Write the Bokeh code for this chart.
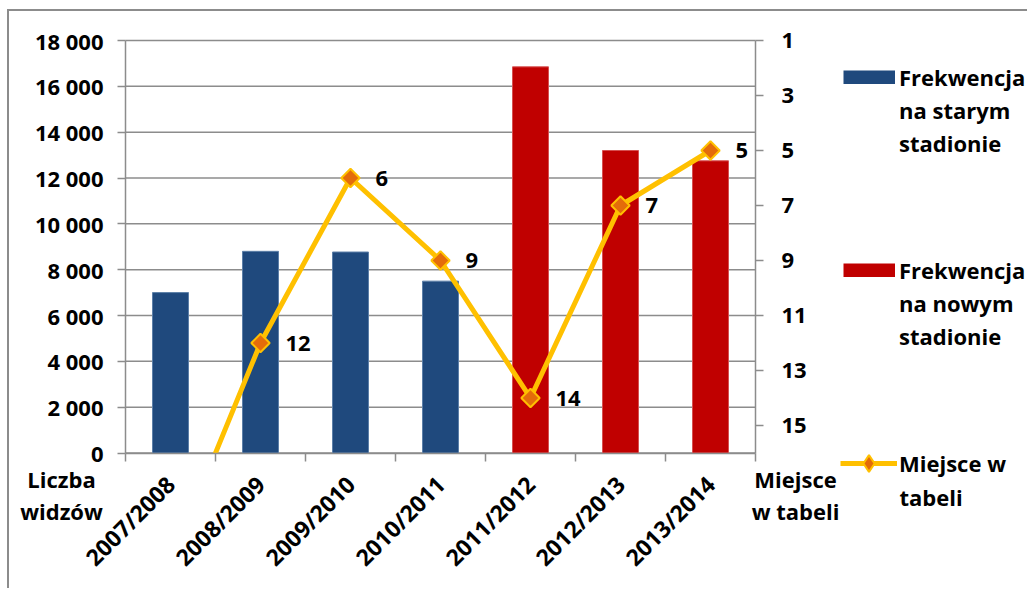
import math

from bokeh.core.properties import value
from bokeh.embed import file_html
from bokeh.models import (ColumnDataSource, FixedTicker, Label, Legend,
                          LegendItem, LinearAxis, Range1d)
from bokeh.plotting import figure
from bokeh.resources import INLINE

# ---- data -----------------------------------------------------------------
seasons = ["2007/2008", "2008/2009", "2009/2010", "2010/2011",
           "2011/2012", "2012/2013", "2013/2014"]
attendance = [7000, 8800, 8770, 7500, 16850, 13200, 12750]
stadium = ["old", "old", "old", "old", "new", "new", "new"]
league_place = [20, 12, 6, 9, 14, 7, 5]

attendance_ticks = list(range(0, 18001, 2000))
place_ticks = [1, 3, 5, 7, 9, 11, 13, 15]
place_limits = (1, 16)

# ---- styling ----------------------------------------------------------------
FONT = "Open Sans"
FS = "22px"
GREY = "#8c8c8c"
BLUE = "#1F497D"
RED = "#C00000"
GOLD = "#FFC000"
ORANGE = "#E46C0A"
NAN = float("nan")

# ---- geometry (page pixels) ------------------------------------------------
FIG_X, FIG_Y, FIG_W, FIG_H = 9, 11, 1020, 579      # canvas inside the border
AREA_L, AREA_R, AREA_T, AREA_B = 125, 755, 40, 452.5  # plotting area

n = len(seasons)
x_per_px = n / (AREA_R - AREA_L)
y_per_px = attendance_ticks[-1] / (AREA_B - AREA_T)
p_per_px = (place_limits[1] - place_limits[0]) / (AREA_B - AREA_T)

x_range = Range1d(-(AREA_L - FIG_X) * x_per_px,
                  n + (FIG_X + FIG_W - AREA_R) * x_per_px)
y_range = Range1d(-(FIG_Y + FIG_H - AREA_B) * y_per_px,
                  attendance_ticks[-1] + (AREA_T - FIG_Y) * y_per_px)
place_range = Range1d(place_limits[1] + (FIG_Y + FIG_H - AREA_B) * p_per_px,
                      place_limits[0] - (AREA_T - FIG_Y) * p_per_px)


def scr(px, py):
    """page pixel -> screen units of the frame (origin bottom-left)"""
    return px - FIG_X, FIG_Y + FIG_H - py


xs = [i + 0.5 for i in range(n)]

old_src = ColumnDataSource(dict(
    x=[x for x, s in zip(xs, stadium) if s == "old"],
    top=[a for a, s in zip(attendance, stadium) if s == "old"]))
new_src = ColumnDataSource(dict(
    x=[x for x, s in zip(xs, stadium) if s == "new"],
    top=[a for a, s in zip(attendance, stadium) if s == "new"]))
place_src = ColumnDataSource(dict(
    x=xs, y=league_place, label=[str(v) for v in league_place]))

p = figure(width=FIG_W, height=FIG_H, output_backend="svg",
           toolbar_location=None, x_range=x_range, y_range=y_range,
           x_axis_location=None, y_axis_location=None,
           min_border=0, min_border_left=0, min_border_right=0,
           min_border_top=0, min_border_bottom=0,
           styles={"margin-left": "7px", "margin-top": "9px",
                   "border-left": f"2px solid {GREY}",
                   "border-top": f"2px solid {GREY}"})
p.outline_line_color = None
p.background_fill_color = "white"
p.border_fill_color = "white"
p.grid.visible = False
p.extra_y_ranges = {"place": place_range}


def style_axis(ax, size=FS):
    ax.axis_line_color = GREY
    ax.axis_line_width = 1.5
    ax.major_tick_line_color = GREY
    ax.major_tick_line_width = 1.5
    ax.minor_tick_line_color = None
    ax.major_label_text_font = FONT
    ax.major_label_text_font_size = size
    ax.major_label_text_font_style = "bold"
    ax.major_label_text_color = "black"


# horizontal gridlines across the plotting area
p.segment(x0=[0] * len(attendance_ticks), x1=[n] * len(attendance_ticks),
          y0=attendance_ticks, y1=attendance_ticks,
          line_color=GREY, line_width=1.5)

# bars
old_bars = p.vbar(x="x", top="top", width=0.4, source=old_src,
                  fill_color=BLUE, line_color="#5c7fa8", line_width=1)
new_bars = p.vbar(x="x", top="top", width=0.4, source=new_src,
                  fill_color=RED, line_color="#d65050", line_width=1)

# league place line
place_line = p.line(x="x", y="y", source=place_src, y_range_name="place",
                    line_color=GOLD, line_width=5)
place_pts = p.scatter(x="x", y="y", source=place_src, y_range_name="place",
                      marker="square", angle=math.pi / 4, size=13,
                      fill_color=ORANGE, line_color=GOLD, line_width=2)
p.text(x="x", y="y", text="label", source=place_src, y_range_name="place",
       x_offset=25, text_align="left", text_baseline="middle",
       text_font=value(FONT), text_font_size=FS, text_font_style="bold",
       text_color="black")

# everything below the category axis stays blank (places beyond the scale)
p.quad(left=[0], right=[n], top=[0], bottom=[y_range.start],
       fill_color="white", line_color=None)

# left axis: attendance
ya = LinearAxis(ticker=FixedTicker(ticks=attendance_ticks),
                fixed_location=0, bounds=(0, attendance_ticks[-1]))
style_axis(ya)
ya.major_label_overrides = {t: f"{t:,}".replace(",", " ") for t in attendance_ticks}
ya.major_tick_out = 8
ya.major_tick_in = 0
ya.major_label_standoff = 14
p.add_layout(ya, "left")

# right axis: league place (reversed)
ra = LinearAxis(y_range_name="place", ticker=FixedTicker(ticks=place_ticks),
                fixed_location=n, bounds=place_limits)
style_axis(ra)
ra.major_tick_out = 8
ra.major_tick_in = 0
ra.major_label_standoff = 18
p.add_layout(ra, "right")

# bottom axis: seasons, ticks between categories
xa = LinearAxis(ticker=FixedTicker(ticks=xs, minor_ticks=list(range(n + 1))),
                fixed_location=0, bounds=(0, n))
style_axis(xa, "23px")
xa.major_label_overrides = {x: s for x, s in zip(xs, seasons)}
xa.major_tick_out = 0
xa.major_tick_in = 0
xa.minor_tick_line_color = GREY
xa.minor_tick_line_width = 1.5
xa.minor_tick_out = 8
xa.minor_tick_in = 0
xa.major_label_orientation = math.pi / 4
xa.major_label_standoff = 19
p.add_layout(xa, "below")

# legend-only renderers (nothing is drawn in the plot itself)
old_swatch = p.line(x=[NAN], y=[NAN], line_color=BLUE, line_width=14,
                    line_cap="butt")
new_swatch = p.line(x=[NAN], y=[NAN], line_color=RED, line_width=14,
                    line_cap="butt")
place_swatch = p.scatter(x=[NAN], y=[NAN], marker="diamond",
                         fill_color=ORANGE, line_color=GOLD, line_width=2)
blank = p.scatter(x=[NAN], y=[NAN], fill_alpha=0, line_alpha=0)


def legend_block(lines, renderers, page_xy, glyph_w, glyph_h, standoff):
    items = [LegendItem(label=lines[0], renderers=renderers)]
    items += [LegendItem(label=t, renderers=[blank]) for t in lines[1:]]
    lg = Legend(items=items, location=scr(*page_xy), glyph_width=glyph_w,
                glyph_height=glyph_h, label_height=30,
                label_standoff=standoff, spacing=3, padding=0, margin=0,
                border_line_color=None, background_fill_alpha=0,
                label_text_font=FONT, label_text_font_size=FS,
                label_text_font_style="bold", label_text_color="black")
    p.add_layout(lg, "center")


# page_xy = bottom-left corner of each legend block
legend_block(["Frekwencja", "na starym", "stadionie"], [old_swatch],
             (843, 158), 52, 14, 4)
legend_block(["Frekwencja", "na nowym", "stadionie"], [new_swatch],
             (843, 351), 52, 14, 4)
legend_block(["Miejsce w"], [place_line, place_swatch],
             (840, 484), 57, 42, 2)


def text_label(txt, px, py, align):
    sx, sy = scr(px, py)
    p.add_layout(Label(x=sx, y=sy, x_units="screen", y_units="screen",
                       text=txt, text_align=align, text_baseline="middle",
                       text_font=FONT, text_font_size=FS,
                       text_font_style="bold", text_color="black"))


text_label("tabeli", 899, 496, "left")

# axis titles
for txt, px, py in [("Liczba", 61, 478), ("widzów", 61, 510),
                    ("Miejsce", 795, 478), ("w tabeli", 795, 510)]:
    text_label(txt, px, py, "center")

open("out.html", "w").write(file_html(p, INLINE))
